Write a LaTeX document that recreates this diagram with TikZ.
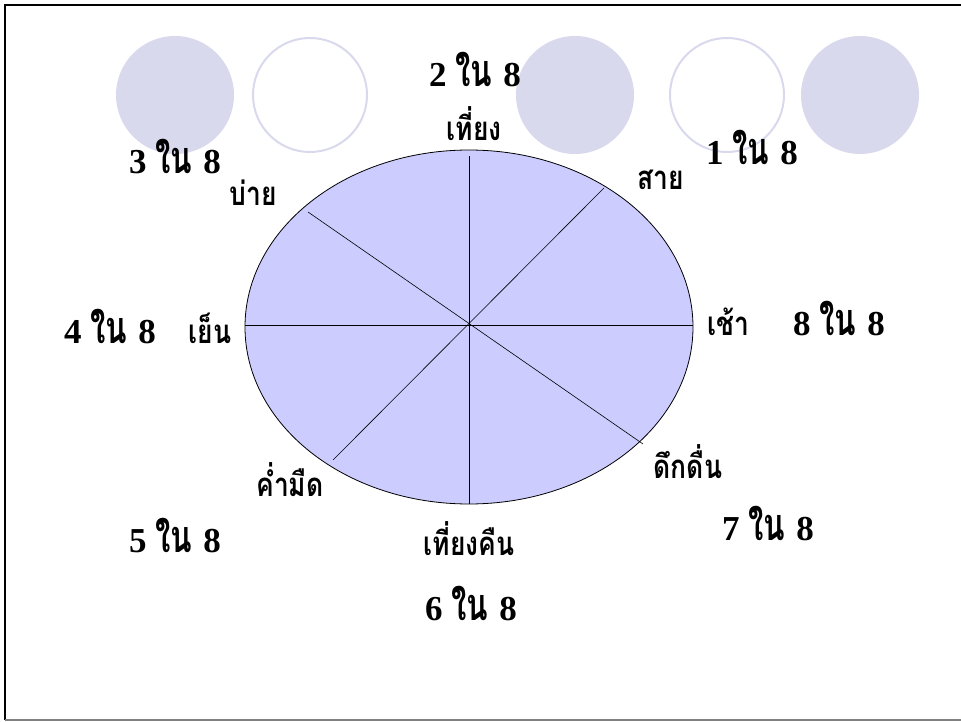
\documentclass[tikz,border=0pt]{standalone}
\usepackage{fontspec}
\setmainfont{Liberation Serif}
\newfontfamily\thai[Script=Thai,FakeStretch=0.8]{Loma}
\newfontfamily\thain[Script=Thai,FakeStretch=0.7]{Loma}
\definecolor{circfill}{RGB}{217,217,237}
\definecolor{ellfill}{RGB}{204,204,255}
\tikzset{
  frac/.style={anchor=base,inner sep=0pt,font=\fontsize{35}{40}\selectfont\bfseries},
  lbl/.style={anchor=base,inner sep=0pt,font=\fontsize{33}{38}\selectfont\thai\bfseries},
  fillcirc/.style={fill=circfill,draw=none},
  opencirc/.style={draw=circfill,line width=2pt}
}
\newcommand{\frc}[1]{#1\hspace{9pt}{\fontsize{45}{48}\selectfont\thain ใน}\hspace{11pt}8}
\begin{document}
\begin{tikzpicture}[x=1pt,y=-1pt]
\useasboundingbox (0,0) rectangle (961,722);
% frame
\draw[line width=2.5pt] (5,720) -- (5,5) -- (961,5);
\draw[gray,line width=2pt] (5,720) -- (961,720);
% decorative circles
\fill[fillcirc] (175,95) circle (59);
\draw[opencirc] (310,95) circle (57);
\fill[fillcirc] (575,95) circle (59);
\draw[opencirc] (727,95) circle (57);
\fill[fillcirc] (860,95) circle (59);
% clock ellipse
\coordinate (c) at (469,327);
\draw[fill=ellfill,line width=0.8pt] (c) ellipse [x radius=224, y radius=177];
\coordinate (n) at (469,156);
\coordinate (s) at (469,504);
\coordinate (w) at (245,325);
\coordinate (e) at (693,325);
\coordinate (nw) at (308,212);
\coordinate (se) at (643,444);
\coordinate (ne) at (604,188);
\coordinate (sw) at (333,460);
\draw[line width=0.6pt] (n) -- (s);
\draw[line width=0.6pt] (w) -- (e);
\draw[line width=0.6pt] (nw) -- (se);
\draw[line width=0.6pt] (ne) -- (sw);
% fraction labels
\node[frac] (f2) at (475,87) {\frc{2}};
\node[frac] (f1) at (752,165) {\frc{1}};
\node[frac] (f3) at (175,174) {\frc{3}};
\node[frac] (f4) at (110,343) {\frc{4}};
\node[frac] (f8) at (839,335) {\frc{8}};
\node[frac] (f5) at (175,552) {\frc{5}};
\node[frac] (f7) at (768,540) {\frc{7}};
\node[frac] (f6) at (471,620) {\frc{6}};
% time labels
\node[lbl] (t1) at (474,141) {เที่ยง};
\node[lbl] (t2) at (661,190) {สาย};
\node[lbl] (t3) at (253,206) {บ่าย};
\node[lbl] (t4) at (210,343) {เย็น};
\node[lbl] (t5) at (728,335) {เช้า};
\node[lbl] (t6) at (290,496) {ค่ำมืด};
\node[lbl] (t7) at (688,478) {ดึกดื่น};
\node[lbl] (t8) at (469,555) {เที่ยงคืน};
\end{tikzpicture}
\end{document}
